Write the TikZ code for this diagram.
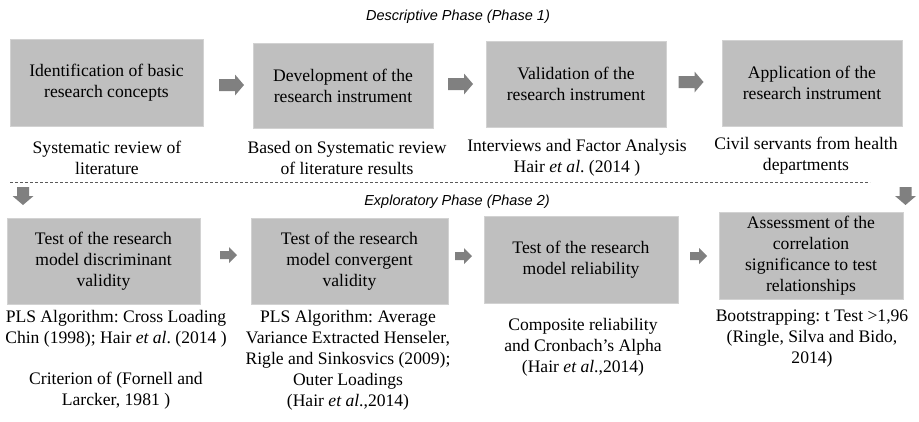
\documentclass[tikz,border=0pt]{standalone}
\usepackage{fontspec}
\setmainfont{Liberation Serif}
\newfontfamily\phasefont{Liberation Sans}
\frenchspacing
\definecolor{boxgray}{RGB}{191,191,191}
\definecolor{boxedge}{RGB}{210,210,210}
\definecolor{arrgray}{RGB}{128,128,128}
\definecolor{dashgray}{RGB}{90,90,90}
\tikzset{
  stagebox/.style={fill=boxgray, draw=boxedge, line width=0.8pt, align=center, inner sep=0pt,
    font=\fontsize{17.6}{21}\selectfont},
  captext/.style={align=center, inner sep=0pt, font=\fontsize{17.6}{21}\selectfont},
  phasetitle/.style={inner sep=0pt, font=\phasefont\itshape\fontsize{14.5}{17}\selectfont},
  pics/blockarr/.style n args={4}{code={
    \fill[arrgray] (-#1/2,-#2) -- (#1/2-#4,-#2) -- (#1/2-#4,-#3) -- (#1/2,0)
      -- (#1/2-#4,#3) -- (#1/2-#4,#2) -- (-#1/2,#2) -- cycle;
  }}
}
\begin{document}
\begin{tikzpicture}[x=1pt,y=-1pt]
\useasboundingbox (0,0) rectangle (919,421);

% titles
\node[phasetitle] (t1) at (458,17) {Descriptive Phase (Phase 1)};
\node[phasetitle] (t2) at (457,202) {Exploratory Phase (Phase 2)};

% top row boxes
\node[stagebox, minimum width=193pt, minimum height=87pt] (b1) at (106.5,82.5) {Identification of basic\\research concepts};
\node[stagebox, minimum width=180pt, minimum height=85pt] (b2) at (343,85.5) {Development of the\\research instrument};
\node[stagebox, minimum width=180pt, minimum height=86pt] (b3) at (576,84) {Validation of the\\research instrument};
\node[stagebox, minimum width=180pt, minimum height=86pt] (b4) at (812,83) {Application of the\\research instrument};

% top captions
\node[captext] (c1) at (107,158) {Systematic review of\\literature};
\node[captext] (c2) at (347,158) {Based on Systematic review\\of literature results};
\node[captext] (c3) at (577,157.5) {Interviews and Factor Analysis\\Hair \textit{et al}. (2014 )};
\node[captext] (c4) at (806,155.5) {Civil servants from health\\departments};

% top arrows
\pic (a1) at (231.5,85) {blockarr={25}{6}{10.5}{9}};
\pic (a2) at (460.5,84) {blockarr={25}{6}{10.5}{9}};
\pic (a3) at (691,82) {blockarr={25}{6}{10.5}{9}};

% dashed separator
\coordinate (dl) at (10,182);
\coordinate (dr) at (870,182);
\draw[dashgray, line width=0.7pt, dash pattern=on 3pt off 2pt] (dl) -- (dr);

% down arrows
\pic[rotate=-90] (d1) at (23,196) {blockarr={18}{6}{10.5}{9}};
\pic[rotate=-90] (d2) at (905.5,196) {blockarr={18}{6}{10.5}{9}};

% bottom row boxes
\node[stagebox, minimum width=193pt, minimum height=86pt] (b5) at (103.5,261) {Test of the research\\model discriminant\\validity};
\node[stagebox, minimum width=197pt, minimum height=86pt] (b6) at (349.5,261) {Test of the research\\model convergent\\validity};
\node[stagebox, minimum width=194pt, minimum height=87pt] (b7) at (581,259.5) {Test of the research\\model reliability};
\node[stagebox, minimum width=184pt, minimum height=87pt] (b8) at (811,255.5) {Assessment of the\\correlation\\significance to test\\relationships};

% bottom arrows
\pic (a4) at (228.5,255) {blockarr={17}{4}{8}{8}};
\pic (a5) at (463.5,256) {blockarr={17}{4}{8}{8}};
\pic (a6) at (698.5,256) {blockarr={17}{4}{8}{8}};

% bottom captions
\node[captext] (c5a) at (116,329) {PLS Algorithm: Cross Loading\\Chin (1998); Hair \textit{et al}. (2014 )};
\node[captext] (c5b) at (116,391) {Criterion of (Fornell and\\Larcker, 1981 )};
\node[captext] (c6) at (348,360) {PLS Algorithm: Average\\Variance Extracted Henseler,\\Rigle and Sinkosvics (2009);\\Outer Loadings\\(Hair \textit{et al}.,2014)};
\node[captext] (c7) at (583,347.5) {Composite reliability\\and Cronbach’s Alpha\\(Hair \textit{et al}.,2014)};
\node[captext] (c8) at (812,338.5) {Bootstrapping: t Test >1,96\\(Ringle, Silva and Bido,\\2014)};
\end{tikzpicture}
\end{document}
